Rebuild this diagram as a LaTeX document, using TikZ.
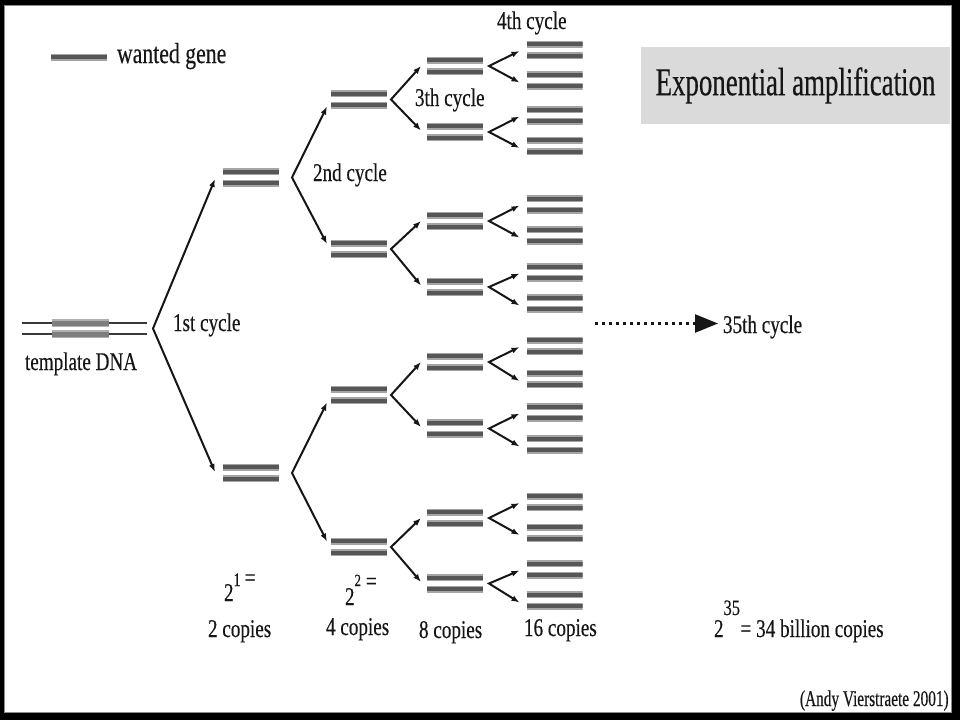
\documentclass[tikz,border=0pt]{standalone}
\usepackage{fontspec}
\setmainfont{Liberation Serif}
\newfontfamily\cf[FakeStretch=0.75,FakeBold=0.35]{Liberation Serif}
\newfontfamily\tf[FakeStretch=0.68,FakeBold=0.35]{Liberation Serif}
\usetikzlibrary{arrows.meta,calc}
\definecolor{ink}{HTML}{161616}
\definecolor{halo}{HTML}{A4A4A4}
\definecolor{core}{HTML}{565656}
\definecolor{boxgray}{HTML}{DADADA}
\definecolor{tgray}{HTML}{7E7E7E}
\definecolor{thalo}{HTML}{B0B0B0}
\tikzset{
  halo line/.style={draw=halo, line width=7pt},
  core line/.style={draw=core, line width=4pt},
  pairbox/.style={minimum width=56pt, minimum height=20pt, inner sep=0pt, outer sep=0pt,
    path picture={
      \foreach \s in {5.75pt,-5.75pt}{
        \draw[halo line] ([yshift=\s]path picture bounding box.west) -- ([yshift=\s]path picture bounding box.east);
        \draw[core line] ([yshift=\s]path picture bounding box.west) -- ([yshift=\s]path picture bounding box.east);
      }}},
  legendbox/.style={minimum width=56pt, minimum height=10pt, inner sep=0pt, outer sep=0pt,
    path picture={
        \draw[halo line] (path picture bounding box.west) -- (path picture bounding box.east);
        \draw[core line] (path picture bounding box.west) -- (path picture bounding box.east);
      }},
  templatebox/.style={minimum width=125pt, minimum height=20pt, inner sep=0pt, outer sep=0pt,
    path picture={
      \foreach \s in {5.5pt,-5.5pt}{
        \draw[draw=ink!85, line width=2.2pt] ([yshift=\s]path picture bounding box.west) -- ([yshift=\s]path picture bounding box.east);
        \draw[draw=thalo, line width=8pt] ([xshift=30pt,yshift=\s]path picture bounding box.west) -- ([xshift=87pt,yshift=\s]path picture bounding box.west);
        \draw[draw=tgray, line width=5pt] ([xshift=30pt,yshift=\s]path picture bounding box.west) -- ([xshift=87pt,yshift=\s]path picture bounding box.west);
      }}},
  lbl/.style={inner sep=0pt, outer sep=0pt, anchor=base west, text=ink, font=\cf\fontsize{25.5}{28}\selectfont},
  arr/.style={draw=ink, line width=2pt, {Latex[length=8pt,width=6pt]}-{Latex[length=8pt,width=6pt]}, line join=miter},
  dotarrow/.style={draw=ink, line width=2.5pt, dash pattern=on 2.5pt off 4.5pt, -{Triangle[length=23pt,width=18pt]}},
}
% bracket: parent, child1, child2, vertex dx, tip dx, tip dy1, tip dy2
\newcommand{\brk}[7]{\draw[arr] ($(#2.west)+(#5,#6)$) -- ($(#1.east)+(#4,0)$) -- ($(#3.west)+(#5,#7)$);}
\begin{document}
\begin{tikzpicture}[x=1pt,y=-1pt]
\useasboundingbox (0,0) rectangle (960,720);
\fill[black] (0,0) rectangle (960,720);
\fill[white, draw=black!45, line width=1pt] (4.5,5.5) rectangle (951.5,712.5);

% legend
\node[legendbox] (leg) at (79,57) {};
\node[lbl, font=\cf\fontsize{29}{32}\selectfont] (wg) at (117,63) {wanted gene};

% title
\node[fill=boxgray, minimum width=309pt, minimum height=77pt, inner sep=0pt, text=ink,
      font=\tf\fontsize{39.5}{42}\selectfont] (title) at (795.5,85.5) {Exponential amplification};

% template
\node[templatebox] (t) at (84.5,328.5) {};
\node[lbl] (tdna) at (25,370) {template DNA};

% 2 copies
\node[pairbox] (a1) at (251,177.5) {};
\node[pairbox] (a2) at (251,473) {};
% 4 copies
\node[pairbox] (b1) at (359,99.5) {};
\node[pairbox] (b2) at (359,249) {};
\node[pairbox] (b3) at (359,395) {};
\node[pairbox] (b4) at (359,547) {};
% 8 copies
\node[pairbox] (c1) at (455,66) {};
\node[pairbox] (c2) at (455,132) {};
\node[pairbox] (c3) at (455,221) {};
\node[pairbox] (c4) at (455,287) {};
\node[pairbox] (c5) at (455,362) {};
\node[pairbox] (c6) at (455,428.5) {};
\node[pairbox] (c7) at (455,518) {};
\node[pairbox] (c8) at (455,583.5) {};
% 16 copies
\node[pairbox] (d1) at (554.5,50) {};
\node[pairbox] (d2) at (554.5,80.5) {};
\node[pairbox] (d3) at (554.5,115.5) {};
\node[pairbox] (d4) at (554.5,146) {};
\node[pairbox] (d5) at (554.5,204.5) {};
\node[pairbox] (d6) at (554.5,235.5) {};
\node[pairbox] (d7) at (554.5,272.5) {};
\node[pairbox] (d8) at (554.5,303.5) {};
\node[pairbox] (d9) at (554.5,346) {};
\node[pairbox] (d10) at (554.5,379) {};
\node[pairbox] (d11) at (554.5,412.5) {};
\node[pairbox] (d12) at (554.5,444.5) {};
\node[pairbox] (d13) at (554.5,502) {};
\node[pairbox] (d14) at (554.5,533) {};
\node[pairbox] (d15) at (554.5,569.5) {};
\node[pairbox] (d16) at (554.5,600.5) {};

% brackets
\brk{t}{a1}{a2}{6}{-8}{1.5}{-1}
\brk{a1}{b1}{b2}{13}{-4}{7}{-5}
\brk{a2}{b3}{b4}{13}{-4}{7.5}{-5.5}
\brk{b1}{c1}{c2}{4}{-6}{0}{-1.5}
\brk{b2}{c3}{c4}{4}{-6}{0}{-1.5}
\brk{b3}{c5}{c6}{4}{-6}{0}{-1.5}
\brk{b4}{c7}{c8}{4}{-6}{0}{-1.5}
\brk{c1}{d1}{d2}{6}{-7}{1}{2}
\brk{c2}{d3}{d4}{6}{-7}{1}{2}
\brk{c3}{d5}{d6}{6}{-7}{1}{2}
\brk{c4}{d7}{d8}{6}{-7}{1}{2}
\brk{c5}{d9}{d10}{6}{-7}{1}{2}
\brk{c6}{d11}{d12}{6}{-7}{1}{2}
\brk{c7}{d13}{d14}{6}{-7}{1}{2}
\brk{c8}{d15}{d16}{6}{-7}{1}{2}

% cycle labels
\node[lbl] (l1) at (173,331) {1st cycle};
\node[lbl] (l2) at (313,181) {2nd cycle};
\node[lbl] (l3) at (415,106) {3th cycle};
\node[lbl] (l4) at (497,29) {4th cycle};

% 35th cycle
\node[lbl] (n35) at (723,333) {35th cycle};
\coordinate (dstart) at (595,323.5);
\draw[dotarrow, shorten >=5pt] (dstart) -- (dstart -| n35.west);

% copies
\node[lbl] (e1) at (224,601) {2\raisebox{15pt}{\fontsize{19}{19}\selectfont 1}\hspace{4pt}\raisebox{15pt}{=}};
\node[lbl] (e2) at (345,605) {2\raisebox{19pt}{\fontsize{17}{17}\selectfont 2}\hspace{5pt}\raisebox{15.5pt}{=}};
\node[lbl] (k2) at (208,637) {2 copies};
\node[lbl] (k4) at (326,635) {4 copies};
\node[lbl] (k8) at (419,638) {8 copies};
\node[lbl] (k16) at (524,636) {16 copies};
\node[lbl] (e35) at (714,637) {2\raisebox{22pt}{\fontsize{22}{22}\selectfont 35}\hspace{0.5pt}= 34 billion copies};

% credit
\node[lbl, font=\tf\fontsize{22.5}{25}\selectfont] (andy) at (800,706) {(Andy Vierstraete 2001)};
\end{tikzpicture}
\end{document}
